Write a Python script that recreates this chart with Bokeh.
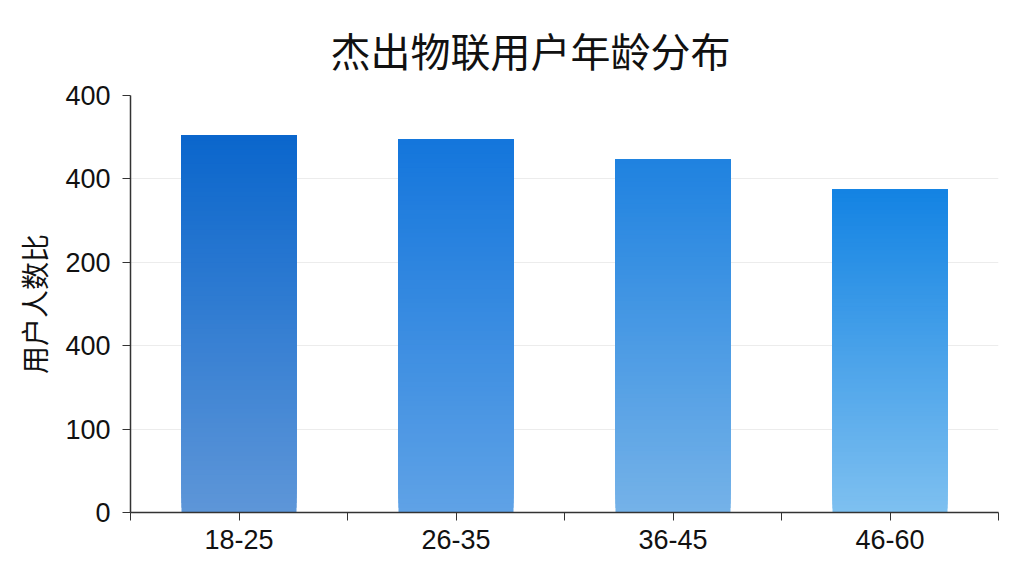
from bokeh.plotting import figure
from bokeh.models import Range1d, FixedTicker, ColumnDataSource
from bokeh.embed import file_html
from bokeh.resources import INLINE

# ---- data ----
categories = ["18-25", "26-35", "36-45", "46-60"]
values = [452, 447, 423, 387]
y_ticks = [0, 100, 200, 300, 400, 500]
y_tick_labels = ["0", "100", "400", "200", "400", "400"]
title_text = "杰出物联用户年龄分布"
y_label = "用户人数比"

# gradient colours per bar (top, bottom)
top_colors = [(10, 102, 204), (20, 118, 220), (31, 130, 224), (19, 131, 227)]
bottom_colors = [(94, 150, 216), (95, 162, 230), (117, 178, 232), (126, 192, 240)]

W, H = 1008, 560
p = figure(width=W, height=H, output_backend="svg", toolbar_location=None,
           x_range=Range1d(0, len(categories)), y_range=Range1d(0, 500),
           min_border_left=130, min_border_right=10, min_border_top=95,
           min_border_bottom=48)
p.background_fill_color = "white"
p.border_fill_color = "white"
p.outline_line_color = None

# bars with vertical gradient built from overlapping slices
N = 80
left, right, bottom, top, colors = [], [], [], [], []
bw = 0.53
for i, v in enumerate(values):
    c = i + 0.5
    for k in range(N):
        t = (k + 0.5) / N
        r = [int(round(bottom_colors[i][j] + (top_colors[i][j] - bottom_colors[i][j]) * t)) for j in range(3)]
        left.append(c - bw / 2)
        right.append(c + bw / 2)
        bottom.append(v * k / N)
        top.append(v)
        colors.append("#%02x%02x%02x" % tuple(r))
src = ColumnDataSource(dict(left=left, right=right, bottom=bottom, top=top, color=colors))
p.quad(left="left", right="right", bottom="bottom", top="top", fill_color="color",
       line_color=None, source=src)

# title
p.title.text = title_text
p.title.text_font = "Noto Sans CJK SC"
p.title.text_font_size = "40px"
p.title.text_font_style = "normal"
p.title.text_color = "#111111"
p.title.align = "left"
p.title.offset = 200
p.title.standoff = 33

# x axis
xt = []
overrides = {}
for i, name in enumerate(categories):
    xt.append(i)
    xt.append(i + 0.5)
    overrides[i + 0.5] = name
    overrides[i] = ""
xt.append(len(categories))
overrides[len(categories)] = ""
p.xaxis.ticker = FixedTicker(ticks=xt)
p.xaxis.major_label_overrides = overrides
p.xaxis.minor_tick_line_color = None
p.xaxis.major_tick_in = 0
p.xaxis.major_tick_out = 8
p.xaxis.axis_line_color = "#333333"
p.xaxis.axis_line_width = 1.5
p.xaxis.major_tick_line_color = "#333333"
p.xaxis.major_label_text_font = "Liberation Sans"
p.xaxis.major_label_text_font_size = "27px"
p.xaxis.major_label_text_color = "#111111"
p.xaxis.major_label_standoff = 9

# y axis
p.yaxis.ticker = FixedTicker(ticks=y_ticks)
p.yaxis.major_label_overrides = {t: l for t, l in zip(y_ticks, y_tick_labels)}
p.yaxis.minor_tick_line_color = None
p.yaxis.major_tick_in = 0
p.yaxis.major_tick_out = 8
p.yaxis.axis_line_color = "#333333"
p.yaxis.axis_line_width = 1.5
p.yaxis.major_tick_line_color = "#333333"
p.yaxis.major_label_text_font = "Liberation Sans"
p.yaxis.major_label_text_font_size = "27px"
p.yaxis.major_label_text_color = "#111111"
p.yaxis.major_label_standoff = 12
p.yaxis.axis_label = y_label
p.yaxis.axis_label_text_font = "Noto Sans CJK SC"
p.yaxis.axis_label_text_font_size = "28px"
p.yaxis.axis_label_text_font_style = "normal"
p.yaxis.axis_label_text_color = "#111111"
p.yaxis.axis_label_standoff = 8

p.xgrid.grid_line_color = None
p.ygrid.grid_line_color = "#ececec"
p.ygrid.grid_line_width = 1

open("out.html", "w").write(file_html(p, INLINE))
